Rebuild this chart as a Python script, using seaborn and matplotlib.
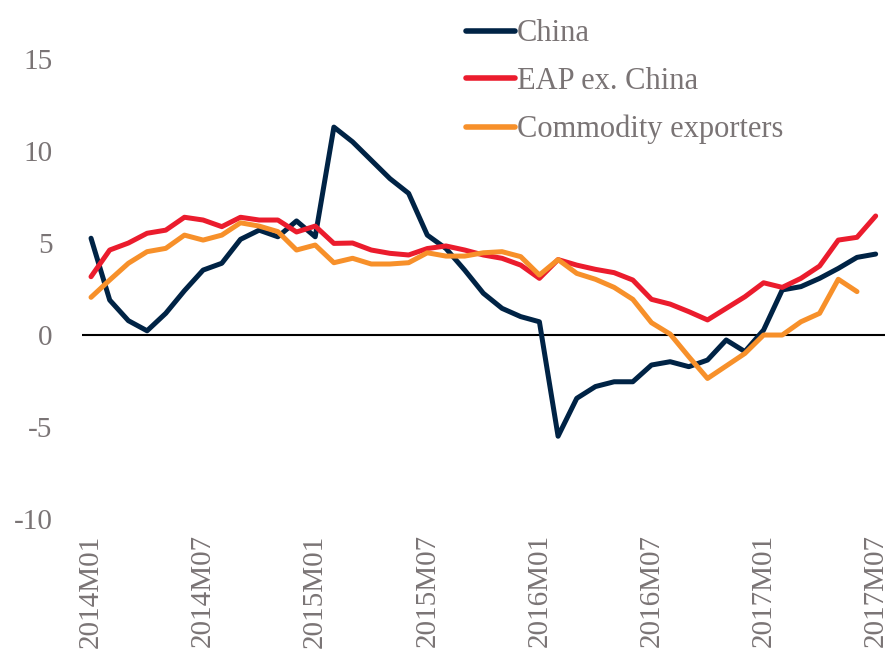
import numpy as np
import pandas as pd
import matplotlib
matplotlib.use("Agg")
import matplotlib.pyplot as plt
import seaborn as sns

sns.set_style("white")
plt.rcParams['font.family'] = ['Liberation Serif', 'DejaVu Serif']
plt.rcParams['axes.unicode_minus'] = False

# monthly, 2014M01 .. 2017M07
months = [f"{y}M{m:02d}" for y in range(2014, 2018) for m in range(1, 13)][:43]

china = [5.26, 1.9, 0.78, 0.23, 1.18, 2.41, 3.53, 3.9, 5.2, 5.7, 5.34, 6.2, 5.34,
         11.3, 10.5, 9.5, 8.5, 7.7, 5.43, 4.7, 3.53, 2.27, 1.45, 1.0, 0.72,
         -5.5, -3.44, -2.8, -2.54, -2.54, -1.63, -1.45, -1.72, -1.36, -0.27,
         -0.9, 0.27, 2.45, 2.63, 3.08, 3.62, 4.22, 4.4]
eap_ex_china = [3.17, 4.62, 5.0, 5.53, 5.7, 6.4, 6.25, 5.89, 6.4, 6.25, 6.25, 5.6,
                5.92, 4.98, 5.0, 4.62, 4.44, 4.35, 4.7, 4.84, 4.62, 4.35, 4.17,
                3.8, 3.08, 4.1, 3.8, 3.57, 3.39, 2.99, 1.94, 1.68, 1.27, 0.82,
                1.45, 2.08, 2.84, 2.59, 3.08, 3.75, 5.16, 5.31, 6.47]
commodity = [2.05, 2.99, 3.9, 4.53, 4.71, 5.43, 5.16, 5.43, 6.1, 5.92, 5.62, 4.62,
             4.89, 3.93, 4.17, 3.86, 3.86, 3.93, 4.47, 4.29, 4.29, 4.47, 4.53,
             4.26, 3.26, 4.1, 3.35, 3.03, 2.59, 1.94, 0.67, 0.05, -1.18, -2.36,
             -1.68, -1.0, 0.0, 0.0, 0.72, 1.18, 3.03, 2.36, np.nan]

series_names = ["China", "EAP ex. China", "Commodity exporters"]
colors = ["#002345", "#EB1C2D", "#F7902A"]

rows = []
for name, vals in zip(series_names, [china, eap_ex_china, commodity]):
    for i, v in enumerate(vals):
        rows.append({"idx": i, "value": v, "series": name})
df = pd.DataFrame(rows).dropna()

fig = plt.figure(figsize=(8.85, 6.58), dpi=100)
ax = fig.add_axes([0.0923, 0.2112, 0.9077, 0.6991])

sns.lineplot(data=df, x="idx", y="value", hue="series", hue_order=series_names,
             palette=colors, linewidth=3.6, ax=ax, legend=True)

ax.axhline(0, color="black", linewidth=1.5, zorder=0)
ax.set_xlim(-0.5, 42.5)
ax.set_ylim(-10, 15)
ax.set_yticks([-10, -5, 0, 5, 10, 15])
tick_pos = list(range(0, 43, 6))
ax.set_xticks(tick_pos)
ax.set_xticklabels([months[i] for i in tick_pos], rotation=90)
ax.set_xlabel("")
ax.set_ylabel("")
for s in ax.spines.values():
    s.set_visible(False)
ax.tick_params(axis="both", length=0, labelsize=21, colors="#7a7475")
ax.tick_params(axis="y", pad=21)
ax.tick_params(axis="x", pad=11)

leg = ax.legend(loc="upper left", bbox_to_anchor=(0.513, 0.989), bbox_transform=fig.transFigure,
                frameon=False, fontsize=22, handlelength=1.6, handletextpad=0.05,
                labelspacing=0.61, borderaxespad=0)
for t in leg.get_texts():
    t.set_color("#7a7475")
for h in leg.get_lines():
    h.set_linewidth(4)

fig.savefig("out.png", dpi=100)
